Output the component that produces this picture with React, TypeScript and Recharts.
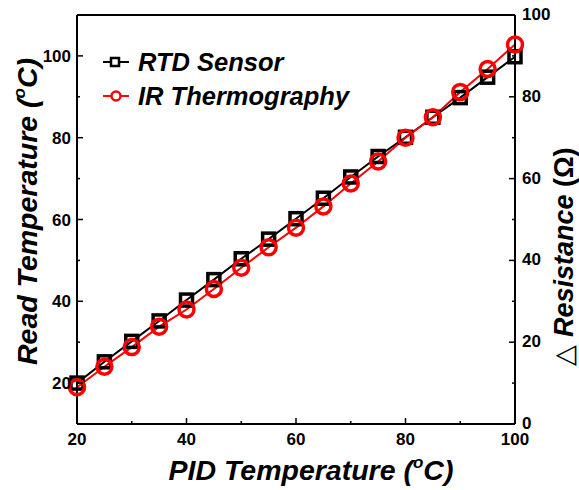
import React from 'react'
import {
  LineChart,
  Line,
  XAxis,
  YAxis,
  Legend,
  ReferenceLine,
} from 'recharts'

const pidTemps = [20, 25, 30, 35, 40, 45, 50, 55, 60, 65, 70, 75, 80, 85, 90, 95, 100]
const rtdSensor = [20, 25.2, 30.2, 35.2, 40.3, 45.3, 50.4, 55.2, 60.2, 65.2, 70.4, 75.4, 80.1, 85, 89.8, 94.8, 99.8]
const irThermo = [19, 24, 28.8, 33.8, 38, 43, 48.2, 53.2, 58, 63.2, 68.8, 74.2, 80, 85, 91.2, 96.8, 102.8]

const xTicks = [20, 30, 40, 50, 60, 70, 80, 90, 100]
const leftTicks = [20, 30, 40, 50, 60, 70, 80, 90, 100]
const rightTicks = [0, 10, 20, 30, 40, 50, 60, 70, 80, 90, 100]

const data = pidTemps.map((t, i) => ({ pid: t, rtd: rtdSensor[i], ir: irThermo[i] }))

const FONT = '"Liberation Sans", Arial, sans-serif'

const XTick = (props: any) => {
  const { x, y, payload } = props
  const v = payload.value
  const major = v % 20 === 0
  return (
    <g>
      <line x1={x} x2={x} y1={y} y2={y - (major ? 6 : 3)} stroke="#000" strokeWidth={1.5} />
      {major && (
        <text x={x} y={y + 21} textAnchor="middle" fontSize={17} fontWeight="bold" fontFamily={FONT} fill="#000">
          {v}
        </text>
      )}
    </g>
  )
}

const LeftTick = (props: any) => {
  const { x, y, payload } = props
  const v = payload.value
  const major = v % 20 === 0
  return (
    <g>
      <line x1={x} x2={x + (major ? 6 : 3)} y1={y} y2={y} stroke="#000" strokeWidth={1.5} />
      {major && (
        <text x={x - 6} y={y + 6} textAnchor="end" fontSize={17} fontWeight="bold" fontFamily={FONT} fill="#000">
          {v}
        </text>
      )}
    </g>
  )
}

const RightTick = (props: any) => {
  const { x, y, payload } = props
  const v = payload.value
  const major = v % 20 === 0
  return (
    <g>
      <line x1={x} x2={x - (major ? 6 : 3)} y1={y} y2={y} stroke="#000" strokeWidth={1.5} />
      {major && (
        <text x={x + 7} y={y + 5} textAnchor="start" fontSize={17} fontWeight="bold" fontFamily={FONT} fill="#000">
          {v}
        </text>
      )}
    </g>
  )
}

const XTitle = (props: any) => {
  const vb = props.viewBox
  const cx = vb.x + vb.width / 2 + 15
  const y = vb.y + 56
  return (
    <text x={cx} y={y} textAnchor="middle" fontSize={28.5} fontWeight="bold" fontStyle="italic" fontFamily={FONT} fill="#000">
      PID Temperature (<tspan fontSize={17} dy={-12}>o</tspan>
      <tspan dy={12}>C</tspan>)
    </text>
  )
}

const LeftTitle = (props: any) => {
  const vb = props.viewBox
  const cx = 37
  const cy = vb.y + vb.height / 2 - 8
  return (
    <text x={cx} y={cy} transform={`rotate(-90, ${cx}, ${cy})`} textAnchor="middle" fontSize={28.5} fontWeight="bold" fontStyle="italic" fontFamily={FONT} fill="#000">
      Read Temperature (<tspan fontSize={17} dy={-12}>o</tspan>
      <tspan dy={12}>C</tspan>)
    </text>
  )
}

const RightTitle = (props: any) => {
  const vb = props.viewBox
  const cx = 573
  const cy = vb.y + vb.height / 2 + 37
  return (
    <text x={cx} y={cy} transform={`rotate(-90, ${cx}, ${cy})`} textAnchor="middle" fontSize={27} fontWeight="bold" fontFamily={FONT} fill="#000">
      <tspan fontWeight="normal">△ </tspan>
      <tspan fontStyle="italic">Resistance</tspan> (Ω)
    </text>
  )
}

const SquareDot = (props: any) => {
  const { cx, cy } = props
  if (cx == null || cy == null) return null
  return <rect x={cx - 6} y={cy - 6} width={12} height={12} fill="none" stroke="#000" strokeWidth={3.5} />
}

const CircleDot = (props: any) => {
  const { cx, cy } = props
  if (cx == null || cy == null) return null
  return <circle cx={cx} cy={cy} r={7.5} fill="none" stroke="#ff0000" strokeWidth={3.5} />
}

const LegendBox = () => {
  const row: React.CSSProperties = {
    display: 'flex',
    alignItems: 'center',
    height: 34,
    fontFamily: FONT,
    fontSize: 25.5,
    fontWeight: 'bold',
    fontStyle: 'italic',
    color: '#000',
    whiteSpace: 'nowrap',
  }
  return (
    <div>
      <div style={row}>
        <svg width={38} height={20}>
          <line x1={3} x2={29} y1={10} y2={10} stroke="#000" strokeWidth={2} />
          <rect x={11} y={6} width={8} height={8} fill="#fff" stroke="#000" strokeWidth={2.5} />
        </svg>
        <span>RTD Sensor</span>
      </div>
      <div style={row}>
        <svg width={38} height={20}>
          <line x1={3} x2={29} y1={10} y2={10} stroke="#ff0000" strokeWidth={2} />
          <circle cx={16} cy={10} r={4.5} fill="#fff" stroke="#ff0000" strokeWidth={2.5} />
        </svg>
        <span>IR Thermography</span>
      </div>
    </div>
  )
}

export default function App() {
  return (
    <div style={{ position: 'absolute', left: 0, top: 0, width: 579, height: 490, background: '#fff' }}>
      <LineChart width={579} height={490} data={data} margin={{ top: 15, right: 0, bottom: 0, left: 0 }}>
        <XAxis
          dataKey="pid"
          type="number"
          domain={[20, 100]}
          ticks={xTicks}
          height={66}
          tickSize={0}
          tickMargin={0}
          tickLine={false}
          tick={<XTick />}
          axisLine={{ stroke: '#000', strokeWidth: 2 }}
          label={(p: any) => <XTitle {...p} />}
        />
        <YAxis
          yAxisId="left"
          type="number"
          domain={[10, 110]}
          ticks={leftTicks}
          width={77}
          tickSize={0}
          tickMargin={0}
          tickLine={false}
          tick={<LeftTick />}
          axisLine={{ stroke: '#000', strokeWidth: 2 }}
          label={(p: any) => <LeftTitle {...p} />}
        />
        <YAxis
          yAxisId="right"
          orientation="right"
          type="number"
          domain={[0, 100]}
          allowDataOverflow
          ticks={rightTicks}
          width={64}
          tickSize={0}
          tickMargin={0}
          tickLine={false}
          tick={<RightTick />}
          axisLine={{ stroke: '#000', strokeWidth: 2 }}
          label={(p: any) => <RightTitle {...p} />}
        />
        <ReferenceLine yAxisId="left" y={110} stroke="#000" strokeWidth={2} />
        <Legend
          layout="vertical"
          align="center"
          verticalAlign="middle"
          content={<LegendBox />}
          wrapperStyle={{ position: 'absolute', top: 45, left: 100, width: 'auto', height: 'auto' }}
        />
        <Line
          yAxisId="left"
          dataKey="rtd"
          name="RTD Sensor"
          stroke="#000"
          strokeWidth={2}
          dot={<SquareDot />}
          activeDot={false}
          isAnimationActive={false}
        />
        <Line
          yAxisId="left"
          dataKey="ir"
          name="IR Thermography"
          stroke="#ff0000"
          strokeWidth={2}
          dot={<CircleDot />}
          activeDot={false}
          isAnimationActive={false}
        />
      </LineChart>
    </div>
  )
}
